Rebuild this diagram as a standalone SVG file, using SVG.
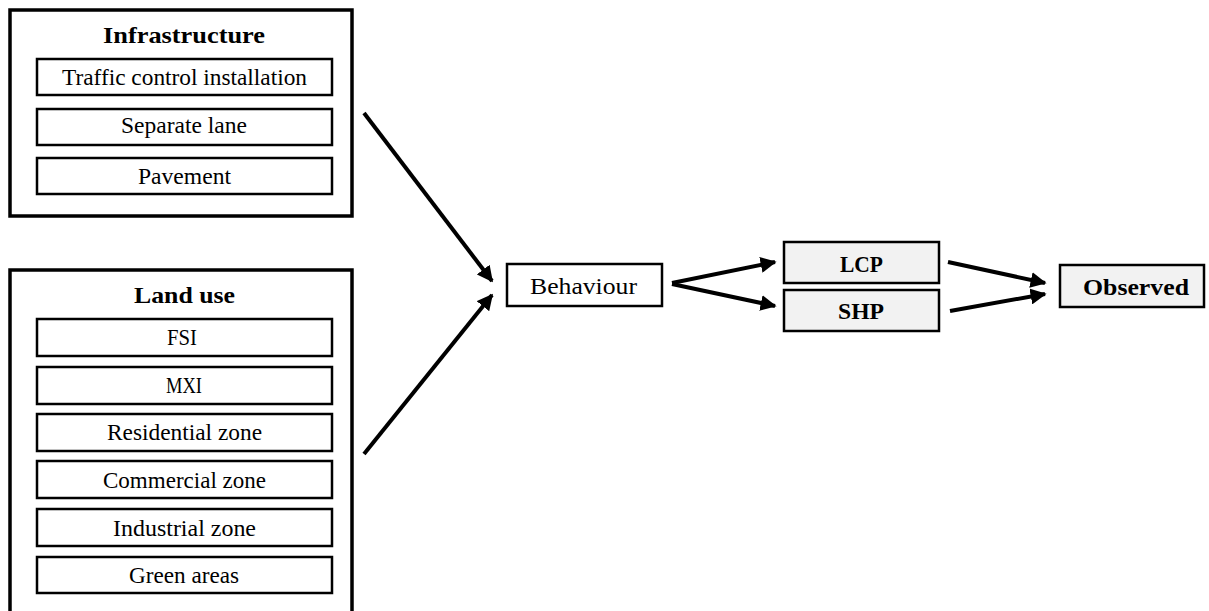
<svg xmlns="http://www.w3.org/2000/svg" width="1209" height="611" viewBox="0 0 1209 611">
<defs>
<style>
.outer{fill:#fff;stroke:#000;stroke-width:3.5}
.inner{fill:#fff;stroke:#000;stroke-width:2.5}
.grey{fill:#f2f2f2;stroke:#000;stroke-width:2.5}
.t{font-family:"Liberation Serif","DejaVu Serif",serif;font-size:23.5px;text-anchor:middle;fill:#000}
.b{font-family:"Liberation Serif","DejaVu Serif",serif;font-size:24px;font-weight:bold;text-anchor:middle;fill:#000}
.arr{stroke:#000;stroke-width:4;fill:none;marker-end:url(#ah)}
</style>
<marker id="ah" viewBox="0 0 10 10" refX="9" refY="5" markerWidth="4" markerHeight="4" markerUnits="strokeWidth" orient="auto">
<path d="M0,0 L10,5 L0,10 z" fill="#000"/>
</marker>
</defs>
<rect width="1209" height="611" fill="#fff"/>
<g id="infrastructure">
<rect class="outer" x="10" y="10" width="342" height="206"/>
<text class="b" x="184" y="43" textLength="162" lengthAdjust="spacingAndGlyphs">Infrastructure</text>
<rect class="inner" x="37" y="59" width="295" height="36"/>
<text class="t" x="184.5" y="85" textLength="245" lengthAdjust="spacingAndGlyphs">Traffic control installation</text>
<rect class="inner" x="37" y="109" width="295" height="36"/>
<text class="t" x="184" y="133" textLength="126" lengthAdjust="spacingAndGlyphs">Separate lane</text>
<rect class="inner" x="37" y="158" width="295" height="36"/>
<text class="t" x="184.5" y="184" textLength="93" lengthAdjust="spacingAndGlyphs">Pavement</text>
</g>
<g id="landuse">
<rect class="outer" x="10" y="270" width="342" height="360"/>
<text class="b" x="184.5" y="303" textLength="101" lengthAdjust="spacingAndGlyphs">Land use</text>
<rect class="inner" x="37" y="319" width="295" height="37"/>
<text class="t" x="182" y="345" textLength="30" lengthAdjust="spacingAndGlyphs">FSI</text>
<rect class="inner" x="37" y="367" width="295" height="37"/>
<text class="t" x="184" y="393" textLength="36" lengthAdjust="spacingAndGlyphs">MXI</text>
<rect class="inner" x="37" y="414" width="295" height="37"/>
<text class="t" x="184.5" y="440" textLength="155" lengthAdjust="spacingAndGlyphs">Residential zone</text>
<rect class="inner" x="37" y="461" width="295" height="37"/>
<text class="t" x="184.5" y="488" textLength="163" lengthAdjust="spacingAndGlyphs">Commercial zone</text>
<rect class="inner" x="37" y="509" width="295" height="37"/>
<text class="t" x="184.5" y="536" textLength="143" lengthAdjust="spacingAndGlyphs">Industrial zone</text>
<rect class="inner" x="37" y="557" width="295" height="36"/>
<text class="t" x="184" y="583" textLength="110" lengthAdjust="spacingAndGlyphs">Green areas</text>
</g>
<g id="behaviour">
<rect class="inner" x="507" y="264" width="155" height="42"/>
<text class="t" x="583.5" y="294" textLength="107" lengthAdjust="spacingAndGlyphs">Behaviour</text>
</g>
<g id="lcp">
<rect class="grey" x="784" y="242" width="155" height="41"/>
<text class="b" x="861.5" y="272" textLength="43" lengthAdjust="spacingAndGlyphs">LCP</text>
</g>
<g id="shp">
<rect class="grey" x="784" y="290" width="155" height="41"/>
<text class="b" x="861" y="319" textLength="46" lengthAdjust="spacingAndGlyphs">SHP</text>
</g>
<g id="observed">
<rect class="grey" x="1060" y="265" width="144" height="42"/>
<text class="b" x="1136" y="295" textLength="106" lengthAdjust="spacingAndGlyphs">Observed</text>
</g>
<g id="connectors">
<line class="arr" x1="364" y1="113" x2="492" y2="281"/>
<line class="arr" x1="364" y1="454" x2="492" y2="295"/>
<line class="arr" x1="672" y1="283" x2="775" y2="262"/>
<line class="arr" x1="672" y1="284" x2="775" y2="306"/>
<line class="arr" x1="948" y1="262" x2="1045" y2="283"/>
<line class="arr" x1="950" y1="311" x2="1045" y2="294"/>
</g>
</svg>
